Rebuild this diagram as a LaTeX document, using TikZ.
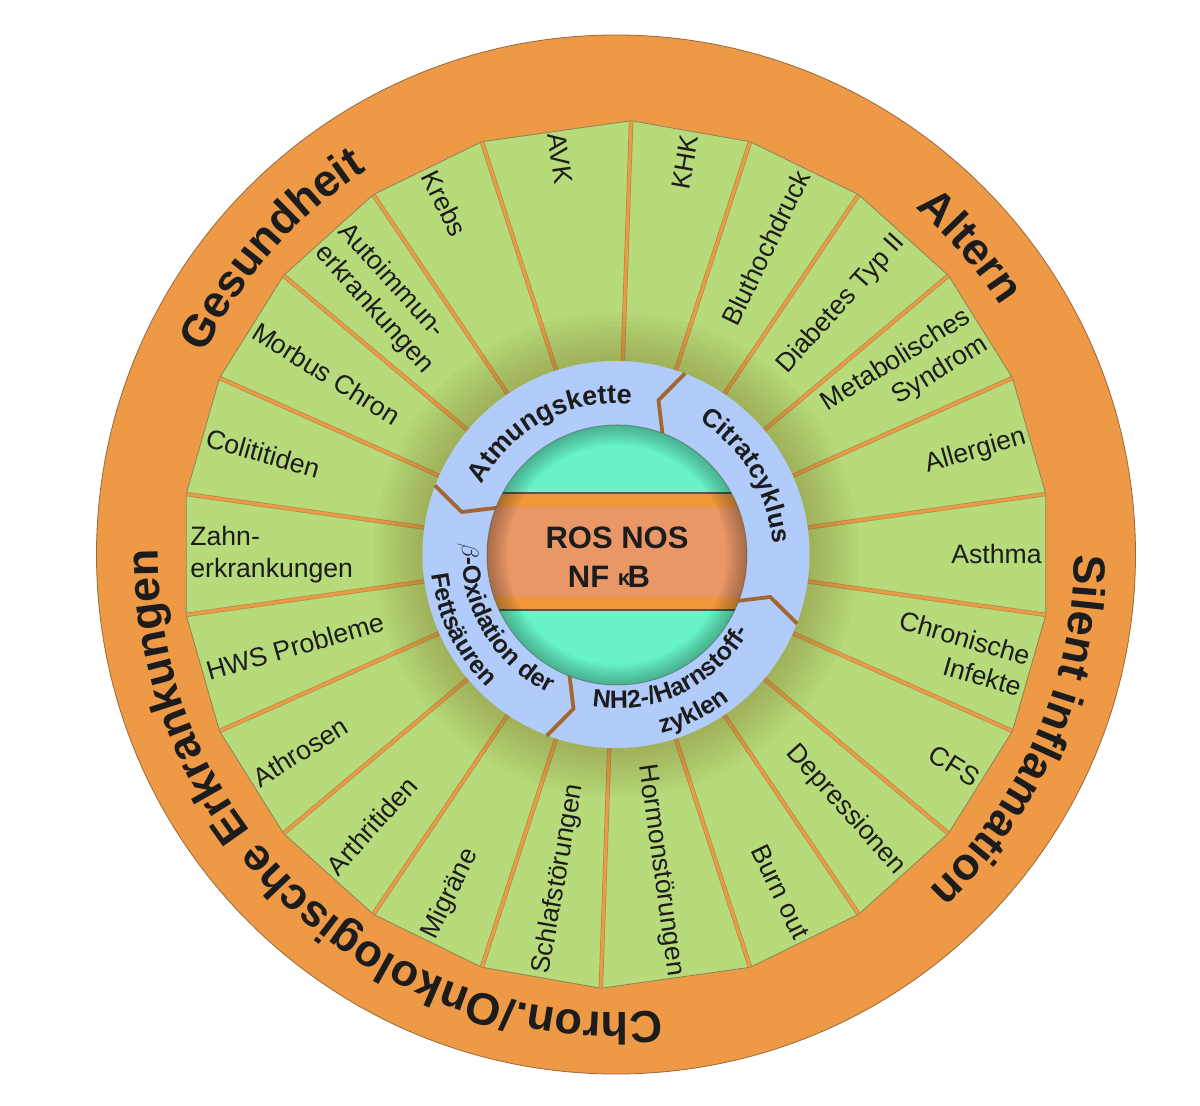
\documentclass[tikz,border=0pt]{standalone}
\usepackage{fontspec}
\setmainfont{Liberation Sans}
\usetikzlibrary{decorations.text}
\definecolor{ringorange}{RGB}{237,153,69}
\definecolor{rimline}{RGB}{150,105,60}
\definecolor{segreen}{RGB}{183,218,122}
\definecolor{edgegray}{RGB}{140,132,85}
\definecolor{divedge}{RGB}{170,140,75}
\definecolor{ringblue}{RGB}{177,203,251}
\definecolor{copper}{RGB}{163,102,48}
\definecolor{mint}{RGB}{104,244,200}
\definecolor{salmon}{RGB}{233,151,103}
\definecolor{stripe}{RGB}{240,152,58}
\definecolor{darkline}{RGB}{70,95,75}
\definecolor{txt}{RGB}{28,28,28}
\definecolor{glow}{RGB}{125,112,40}
\begin{document}
\begin{tikzpicture}[x=0.5pt,y=0.5pt,
  lbl/.style={font=\fontsize{13.3}{16}\selectfont, text=txt, inner sep=0pt},
  rlbl/.style={lbl, anchor=east, align=right},
  llbl/.style={lbl, anchor=west, align=left},
  divider/.style={draw=divedge, line width=0.35pt, double=ringorange, double distance=1.5pt},
  cyc/.style={draw=copper, line width=1.9pt, line join=miter},
  ctr/.style={font=\bfseries\fontsize{15.5}{18}\selectfont, text=txt, inner sep=0pt},
  bigtext/.style={decorate, decoration={text along path, text align=center, text color=txt,
     text={|\bfseries\fontsize{22.5}{27}\selectfont|#1}}},
  ringtext/.style 2 args={decorate, decoration={text along path, text align=center, text color=txt,
     text={|\bfseries\fontsize{#1}{15}\selectfont|#2}}}
]
\useasboundingbox (-616,-551.5) rectangle (584,554.5);
\fill[white] (-616,-551.5) rectangle (584,554.5);

% outer orange disk
\fill[ringorange, draw=rimline, line width=0.4pt] (0,0) circle (519.5);

% green polygon
\fill[segreen, draw=edgegray, line width=0.4pt] (8:434)
  \foreach \a in {24,40,56,72,88,108,124,140,156,172,188,204,220,236,252,268,288,304,320,336,352} {-- (\a:434)} -- cycle;

% dividers
\foreach \a in {8,24,40,56,72,88,108,124,140,156,172,188,204,220,236,252,268,288,304,320,336,352}
  \draw[divider] (\a:433.5) -- (\a:193);

% soft shadow around the blue ring
\foreach \k in {1,...,10}
  \fill[glow, opacity=0.04, even odd rule] (0,0) circle ({193+5*\k}) circle (193);

% blue ring
\fill[ringblue] (0,0) circle (193.5);
\foreach \t in {68.6,158.6,248.6,338.6}
  \draw[cyc] (\t:128) -- ({\t+6}:160) -- ({\t+0.5}:194);

% central sphere
\begin{scope}
  \clip (1,-0.5) circle (130);
  \fill[mint] (-130,-131) rectangle (132,130);
  \fill[stripe] (-130,-55.5) rectangle (132,61.5);
  \fill[salmon] (-130,-42.5) rectangle (132,47.5);
  \draw[darkline, line width=1pt] (-130,61.5) -- (132,61.5);
  \draw[darkline, line width=1pt] (-130,-55.5) -- (132,-55.5);
  \foreach \k in {1,...,8}
    \fill[black, opacity=0.035, even odd rule] (1,-0.5) circle (130) circle ({130-2.5*\k});
\end{scope}
\draw[darkline, opacity=0.5, line width=0.5pt] (1,-0.5) circle (130);

\node[ctr] (ros) at (1,16.5) {ROS NOS};
\node[ctr] (nfkb) at (-7,-22.5) {NF {\fontsize{11}{11}\selectfont\raisebox{1pt}{κ}}\kern-1.2pt B};

% texts in the blue ring
\path[ringtext={13.5}{Atmungskette}] (178.3:151) arc[start angle=178.3, end angle=58.3, radius=151];
\path[ringtext={13}{Citratcyklus}] (91:157) arc[start angle=91, end angle=-29, radius=157];
\path[ringtext={12.5}{{$\beta$}-Oxidation der}] (145:154) arc[start angle=145, end angle=275, radius=154];
\path[ringtext={12.5}{Fettsäuren}] (146:185) arc[start angle=146, end angle=266, radius=185];
\path[ringtext={12.5}{NH2-/Harnstoff-}] (235.5:154) arc[start angle=235.5, end angle=355.5, radius=154];
\path[ringtext={12.5}{zyklen}] (256:185) arc[start angle=256, end angle=336, radius=185];

% outer band texts
\path[bigtext={Gesundheit}] (178.5:458) arc[start angle=178.5, end angle=98.5, radius=458];
\path[bigtext={Altern}] (81:458) arc[start angle=81, end angle=1, radius=458];
\path[bigtext={Silent inflamation}] (16.5:458) arc[start angle=16.5, end angle=-63.5, radius=458];
\path[bigtext={Chron./Onkologische Erkrankungen}] (292:458) arc[start angle=292, end angle=163, radius=458];

% segment labels, right half
\node[rlbl, rotate=0]   (asthma) at (0:426)  {Asthma};
\node[rlbl, rotate=16]  (allerg) at (16:426) {Allergien};
\node[rlbl, rotate=32]  (metab)  at (32:426) {Metabolisches\\Syndrom};
\node[rlbl, rotate=48]  (diab)   at (48:426) {Diabetes Typ II};
\node[rlbl, rotate=64]  (bluth)  at (64:426) {Bluthochdruck};
\node[rlbl, rotate=80]  (khk)    at (80:426) {KHK};
\node[rlbl, rotate=-16] (chron)  at (344:426) {Chronische\\Infekte};
\node[rlbl, rotate=-32] (cfs)    at (328:426) {CFS};
\node[rlbl, rotate=-48] (depr)   at (312:426) {Depressionen};
\node[rlbl, rotate=-64] (burn)   at (296:426) {Burn out};
\node[rlbl, rotate=-82] (hormon) at (278:426) {Hormonstörungen};
% segment labels, left half
\node[llbl, rotate=-82] (avk)    at (98:426)  {AVK};
\node[llbl, rotate=-64] (krebs)  at (116:426) {Krebs};
\node[llbl, rotate=-48] (autoim) at (132:426) {Autoimmun-\\erkrankungen};
\node[llbl, rotate=-32] (morbus) at (148:426) {Morbus Chron};
\node[llbl, rotate=-16] (colit)  at (164:426) {Colititiden};
\node[llbl, rotate=0]   (zahn)   at (180:426) {Zahn-\\erkrankungen};
\node[llbl, rotate=16]  (hws)    at (196:426) {HWS Probleme};
\node[llbl, rotate=32]  (athro)  at (212:426) {Athrosen};
\node[llbl, rotate=48]  (arthr)  at (228:426) {Arthritiden};
\node[llbl, rotate=64]  (migr)   at (244:426) {Migräne};
\node[llbl, rotate=80]  (schlaf) at (260:426) {Schlafstörungen};
\end{tikzpicture}
\end{document}
